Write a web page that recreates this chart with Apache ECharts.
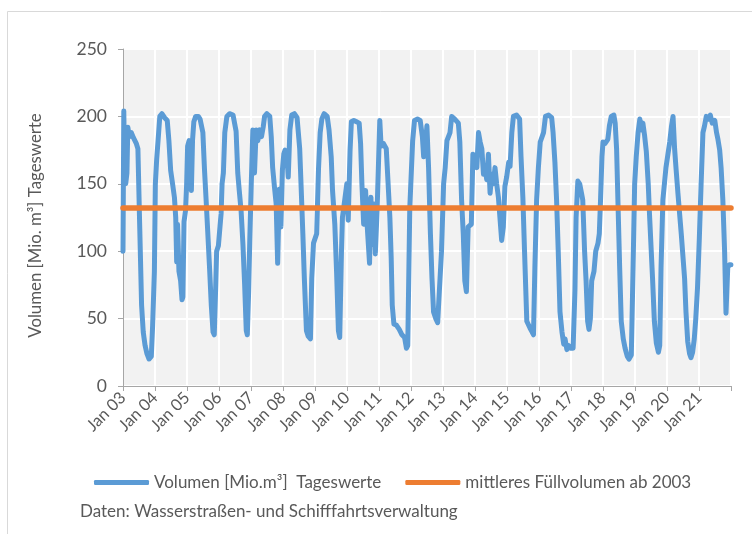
<!DOCTYPE html>
<html><head><meta charset="utf-8">
<script src="https://cdn.jsdelivr.net/npm/echarts@6/dist/echarts.min.js"></script>
<style>html,body{margin:0;padding:0;background:#fff}#c{width:752px;height:534px}</style>
</head><body><div id="c"></div>
<script>
// ---- data ----
const dates = [
 '2003-01-01','2003-01-10','2003-01-20','2003-02-01','2003-02-15','2003-02-25','2003-03-15','2003-04-05','2003-05-01','2003-06-01','2003-06-20','2003-07-10','2003-08-01','2003-08-20','2003-09-10','2003-10-01','2003-10-25','2003-11-20','2003-12-05','2003-12-25',
 '2004-01-05','2004-01-20','2004-02-05','2004-02-25','2004-03-20','2004-04-20','2004-05-20','2004-06-08','2004-06-28','2004-07-20','2004-08-10','2004-08-25','2004-09-05','2004-09-15','2004-10-01','2004-10-20','2004-11-05','2004-11-15','2004-11-28','2004-12-15','2004-12-28',
 '2005-01-08','2005-01-25','2005-02-20','2005-03-05','2005-03-20','2005-04-10','2005-05-10','2005-05-30','2005-06-15','2005-07-01','2005-07-20','2005-08-07','2005-08-25','2005-09-15','2005-10-05','2005-10-25','2005-11-08','2005-11-25','2005-12-05','2005-12-25',
 '2006-01-12','2006-01-25','2006-02-05','2006-02-20','2006-03-08','2006-04-01','2006-05-01','2006-06-10','2006-07-15','2006-08-03','2006-08-20','2006-09-10','2006-10-01','2006-10-20','2006-11-08','2006-11-20','2006-12-05','2006-12-18',
 '2007-01-04','2007-01-22','2007-02-10','2007-03-01','2007-03-20','2007-04-10','2007-05-01','2007-05-20','2007-06-05','2007-07-01','2007-08-03','2007-08-20','2007-09-05','2007-09-25','2007-10-15','2007-11-01','2007-11-20','2007-12-08','2007-12-25',
 '2008-01-10','2008-01-25','2008-02-15','2008-03-01','2008-03-20','2008-04-10','2008-05-10','2008-06-10','2008-07-10','2008-07-25','2008-08-15','2008-09-01','2008-09-25','2008-10-15','2008-11-10','2008-11-25','2008-12-15',
 '2009-01-20','2009-02-10','2009-03-01','2009-03-20','2009-04-15','2009-05-20','2009-06-10','2009-07-05','2009-07-20','2009-08-15','2009-09-05','2009-09-25','2009-10-10','2009-10-30','2009-11-10','2009-12-10','2009-12-30',
 '2010-01-15','2010-02-05','2010-02-20','2010-03-20','2010-04-20','2010-05-20','2010-06-05','2010-06-20','2010-07-10','2010-08-01','2010-08-20','2010-09-15','2010-10-01','2010-10-15','2010-11-05','2010-11-20','2010-12-10',
 '2011-01-10','2011-01-25','2011-02-20','2011-03-25','2011-04-15','2011-05-05','2011-05-20','2011-06-01','2011-06-20','2011-07-20','2011-08-20','2011-09-20','2011-10-20','2011-11-10','2011-11-25','2011-12-18',
 '2012-01-20','2012-02-10','2012-03-15','2012-04-15','2012-05-10','2012-05-25','2012-06-15','2012-07-01','2012-07-20','2012-08-10','2012-08-28','2012-09-15','2012-10-10','2012-11-01','2012-11-20','2012-12-15',
 '2013-01-08','2013-01-26','2013-02-15','2013-03-22','2013-04-10','2013-05-15','2013-06-25','2013-07-12','2013-08-01','2013-08-20','2013-09-07','2013-09-25','2013-10-15','2013-11-20','2013-12-08','2013-12-25',
 '2014-01-22','2014-02-10','2014-03-01','2014-03-20','2014-04-08','2014-04-25','2014-05-15','2014-06-03','2014-06-22','2014-07-10','2014-07-30','2014-08-17','2014-09-05','2014-09-25','2014-11-01','2014-11-20','2014-12-08','2014-12-28',
 '2015-01-20','2015-02-05','2015-02-25','2015-03-15','2015-04-20','2015-05-25','2015-06-10','2015-07-01','2015-07-20','2015-08-15','2015-09-20','2015-10-15','2015-10-30','2015-11-15','2015-12-05','2015-12-25',
 '2016-01-15','2016-02-22','2016-03-15','2016-04-20','2016-05-25','2016-06-10','2016-07-01','2016-07-20','2016-08-08','2016-08-28','2016-09-20','2016-10-10','2016-10-25','2016-11-15','2016-12-05','2016-12-25',
 '2017-01-25','2017-02-15','2017-02-28','2017-03-20','2017-04-10','2017-05-01','2017-05-15','2017-06-05','2017-06-22','2017-07-10','2017-07-25','2017-08-10','2017-08-25','2017-09-20','2017-10-10','2017-11-05','2017-11-20','2017-12-05','2017-12-20',
 '2018-01-01','2018-01-25','2018-02-25','2018-03-15','2018-04-05','2018-05-05','2018-05-20','2018-06-05','2018-06-20','2018-07-10','2018-07-28','2018-08-20','2018-09-10','2018-10-05','2018-10-25','2018-11-20','2018-12-10','2018-12-28',
 '2019-01-15','2019-02-05','2019-02-25','2019-03-15','2019-04-01','2019-04-20','2019-05-10','2019-06-01','2019-06-15','2019-07-20','2019-08-10','2019-09-01','2019-09-25','2019-10-10','2019-10-25','2019-11-15','2019-12-20',
 '2020-01-01','2020-02-01','2020-02-20','2020-03-10','2020-03-28','2020-04-15','2020-05-05','2020-06-12','2020-07-20','2020-08-05','2020-08-25','2020-09-15','2020-10-01','2020-10-20','2020-11-08','2020-11-25','2020-12-15',
 '2021-01-05','2021-01-25','2021-02-15','2021-03-05','2021-03-25','2021-04-20','2021-05-10','2021-06-01','2021-06-30','2021-07-20','2021-08-05','2021-08-25','2021-09-10','2021-09-30','2021-10-20','2021-11-05','2021-11-25','2021-12-15','2021-12-31'
];
const volumes = [
 100,204,160,150,158,192,185,188,184,180,176,120,60,40,30,24,20,22,45,85,
 150,168,182,200,202,199,197,182,160,150,140,125,92,120,85,78,64,66,122,130,150,
 178,182,145,182,196,200,200,198,198,188,160,138,115,88,60,40,38,75,100,104,
 105,128,150,158,188,200,202,201,189,158,145,130,105,76,41,38,70,108,
 150,190,158,190,182,190,185,192,200,202,200,185,162,148,135,91,146,118,160,
 172,175,170,155,190,201,202,199,176,150,113,80,41,37,35,80,106,
 113,161,188,198,202,200,190,170,145,120,83,41,36,100,125,140,150,
 123,175,196,197,196,195,180,150,120,145,118,91,140,105,135,98,130,
 197,178,180,176,150,125,95,60,46,45,42,38,36,28,30,132,
 182,197,198,197,185,170,180,193,162,113,80,55,50,47,48,100,
 150,162,182,188,200,198,195,181,138,113,78,70,118,120,172,170,
 162,188,181,176,157,162,153,172,143,157,150,162,150,140,108,118,148,155,
 166,163,188,200,201,198,170,140,100,48,43,40,38,88,138,162,
 181,188,200,201,199,188,166,138,100,55,40,31,35,27,30,28,
 28,71,125,152,150,143,138,100,78,48,42,50,78,85,100,106,113,140,170,
 181,180,183,193,200,201,195,176,138,88,48,35,28,22,20,23,88,150,
 170,188,198,190,195,186,174,150,128,80,48,32,25,30,88,138,162,
 162,181,192,200,176,160,143,113,80,55,33,24,21,25,35,50,73,
 110,150,188,193,200,198,201,195,197,188,183,175,162,138,100,54,88,90,90
];
const meanVolume = 132;            // mittleres Füllvolumen ab 2003
const meanSpan = ['2003-01-01', '2022-01-01'];
const xTickLabels = ['Jan 03','Jan 04','Jan 05','Jan 06','Jan 07','Jan 08','Jan 09','Jan 10','Jan 11','Jan 12','Jan 13','Jan 14','Jan 15','Jan 16','Jan 17','Jan 18','Jan 19','Jan 20','Jan 21'];
const yTicks = [0, 50, 100, 150, 200, 250];
const seriesNames = ['Volumen [Mio.m³]  Tageswerte', 'mittleres Füllvolumen ab 2003'];
const caption = 'Daten: Wasserstraßen- und Schifffahrtsverwaltung';
const yTitle = 'Volumen [Mio. m³] Tageswerte';

// ---- helpers ----
function toYear(s) {
  const [y, m, d] = s.split('-').map(Number);
  const t0 = Date.UTC(y, 0, 1), t1 = Date.UTC(y + 1, 0, 1);
  return y + (Date.UTC(y, m - 1, d) - t0) / (t1 - t0);
}
const volData = dates.map((d, i) => [toYear(d), volumes[i]]);
const meanData = meanSpan.map(d => [toYear(d), meanVolume]);
const xStart = toYear(meanSpan[0]), xEnd = toYear(meanSpan[1]);

const FONT = 'Lato';
const TXT = '#595959';
const chart = echarts.init(document.getElementById('c'), null, {renderer: 'canvas'});
chart.setOption({
  animation: false,
  backgroundColor: '#fff',
  textStyle: {fontFamily: FONT, color: TXT},
  color: ['#5b9bd5', '#ed7d31'],
  grid: {left: 123, right: 21, top: 49, bottom: 148, show: true, backgroundColor: '#f2f2f2', borderWidth: 0, containLabel: false},
  xAxis: {
    type: 'value', min: xStart, max: xEnd, interval: 1,
    axisLine: {show: true, lineStyle: {color: '#a6a6a6', width: 1}},
    axisTick: {show: true, length: 5, lineStyle: {color: '#a6a6a6'}},
    axisLabel: {
      rotate: 45, margin: 9, fontSize: 16.5, color: TXT, fontFamily: FONT,
      formatter: v => xTickLabels[Math.round(v - xStart)] || ''
    },
    splitLine: {show: true, lineStyle: {color: '#ffffff', width: 2}}
  },
  yAxis: {
    type: 'value', min: yTicks[0], max: yTicks[yTicks.length - 1], interval: yTicks[1] - yTicks[0],
    name: yTitle, nameLocation: 'middle', nameGap: 79,
    nameTextStyle: {fontSize: 16.8, color: TXT, fontFamily: FONT, padding: [0, 16, 0, 0]},
    axisLine: {show: true, lineStyle: {color: '#a6a6a6', width: 1}},
    axisTick: {show: true, length: 5, lineStyle: {color: '#a6a6a6'}},
    axisLabel: {fontSize: 17.5, color: TXT, margin: 16, fontFamily: FONT},
    splitLine: {show: true, lineStyle: {color: '#ffffff', width: 2}}
  },
  legend: {
    left: 89, top: 469, itemWidth: 55, itemHeight: 5, itemGap: 24, icon: 'roundRect',
    textStyle: {fontSize: 17, color: TXT, fontFamily: FONT},
    data: seriesNames
  },
  graphic: [
    {type: 'rect', shape: {x: 7.5, y: 11.5, width: 800, height: 600}, style: {fill: 'none', stroke: '#d9d9d9', lineWidth: 1}, silent: true, z: -1},
    {type: 'text', left: 80, top: 503, style: {text: caption, fontSize: 17, fill: TXT, fontFamily: FONT}}
  ],
  series: [
    {name: seriesNames[0], type: 'line', data: volData, showSymbol: false, symbol: 'none',
     lineStyle: {width: 5, color: '#5b9bd5', cap: 'round', join: 'round'}, itemStyle: {color: '#5b9bd5'}, z: 2},
    {name: seriesNames[1], type: 'line', data: meanData, showSymbol: false, symbol: 'none',
     lineStyle: {width: 5.5, color: '#ed7d31', cap: 'round'}, itemStyle: {color: '#ed7d31'}, z: 3}
  ]
});
</script></body></html>
